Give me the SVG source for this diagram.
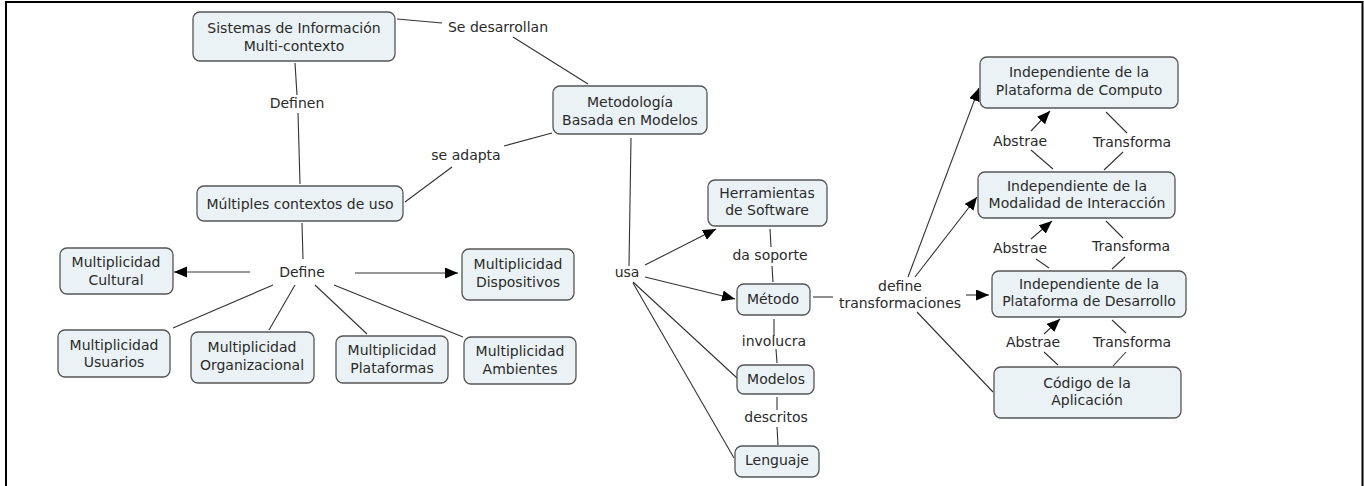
<svg xmlns="http://www.w3.org/2000/svg" width="1364" height="486" viewBox="0 0 1364 486">
<style>
.n rect{fill:#ebf2f5;stroke:#555;stroke-width:1.3}
text{font-family:"DejaVu Sans",Verdana,sans-serif;font-size:14px;fill:#2a2a2a;text-anchor:middle}
.c line{stroke:#333;stroke-width:1.1}
.a{marker-end:url(#ah)}
</style>
<defs>
<marker id="ah" markerUnits="userSpaceOnUse" markerWidth="14" markerHeight="12" refX="13" refY="5.5" orient="auto">
<path d="M0,0 L13,5.5 L0,11 z" fill="#000"/>
</marker>
</defs>
<rect x="0" y="0" width="1364" height="486" fill="#fff"/>
<path d="M6,486 V2 H1362.5 V486" fill="none" stroke="#000" stroke-width="2"/>

<g class="c" id="connectors">
<line x1="397" y1="19" x2="442" y2="23"/>
<line x1="513" y1="37" x2="588" y2="84"/>
<line x1="295" y1="63" x2="297" y2="95"/>
<line x1="298" y1="113" x2="300" y2="184"/>
<line x1="552" y1="133" x2="504" y2="146"/>
<line x1="452" y1="167" x2="405" y2="202"/>
<line x1="302" y1="223" x2="303" y2="259"/>
<line class="a" x1="250" y1="272" x2="174" y2="272"/>
<line class="a" x1="355" y1="273" x2="458" y2="273"/>
<line x1="273" y1="285" x2="173" y2="328"/>
<line x1="295" y1="285" x2="269" y2="330"/>
<line x1="315" y1="285" x2="367" y2="334"/>
<line x1="334" y1="285" x2="463" y2="337"/>
<line x1="631" y1="138" x2="629" y2="266"/>
<line class="a" x1="645" y1="265" x2="716" y2="229"/>
<line class="a" x1="645" y1="277" x2="735" y2="299"/>
<line x1="633" y1="282" x2="737" y2="378"/>
<line x1="633" y1="283" x2="734" y2="458"/>
<line x1="770" y1="229" x2="771" y2="247"/>
<line x1="772" y1="266" x2="773" y2="282"/>
<line x1="774" y1="319" x2="774" y2="336"/>
<line x1="776" y1="349" x2="777" y2="363"/>
<line x1="777" y1="397" x2="777" y2="410"/>
<line x1="777" y1="427" x2="778" y2="445"/>
<line x1="813" y1="297" x2="833" y2="297"/>
<line class="a" x1="908" y1="277" x2="979" y2="88"/>
<line class="a" x1="915" y1="277" x2="977" y2="197"/>
<line class="a" x1="966" y1="295" x2="989" y2="295"/>
<line x1="917" y1="312" x2="993" y2="392"/>
<line x1="1053" y1="169" x2="1031" y2="150"/>
<line class="a" x1="1031" y1="131" x2="1050" y2="111"/>
<line x1="1106" y1="112" x2="1127" y2="133"/>
<line x1="1123" y1="152" x2="1104" y2="170"/>
<line x1="1049" y1="268" x2="1036" y2="259"/>
<line class="a" x1="1031" y1="239" x2="1052" y2="221"/>
<line x1="1106" y1="221" x2="1123" y2="238"/>
<line x1="1125" y1="257" x2="1112" y2="269"/>
<line x1="1058" y1="365" x2="1044" y2="352"/>
<line class="a" x1="1044" y1="334" x2="1060" y2="319"/>
<line x1="1112" y1="320" x2="1126" y2="333"/>
<line x1="1126" y1="352" x2="1113" y2="366"/>
</g>

<g id="labels">
<text x="498" y="32">Se desarrollan</text>
<text x="297" y="108">Definen</text>
<text x="466" y="160">se adapta</text>
<text x="302" y="277">Define</text>
<text x="627" y="277">usa</text>
<text x="770" y="260">da soporte</text>
<text x="774" y="346">involucra</text>
<text x="776" y="422">descritos</text>
<text x="900" y="291">define</text>
<text x="900" y="308">transformaciones</text>
<text x="1020" y="146">Abstrae</text>
<text x="1132" y="147">Transforma</text>
<text x="1020" y="253">Abstrae</text>
<text x="1131" y="251">Transforma</text>
<text x="1033" y="347">Abstrae</text>
<text x="1132" y="347">Transforma</text>
</g>

<g class="n" id="n-sistemas"><rect x="193" y="12" width="202" height="49" rx="7"/><text x="294" y="33">Sistemas de Información</text><text x="294" y="51">Multi-contexto</text></g>
<g class="n" id="n-metodologia"><rect x="553" y="86" width="154" height="48" rx="7"/><text x="630" y="107">Metodología</text><text x="630" y="125">Basada en Modelos</text></g>
<g class="n" id="n-multiples"><rect x="197" y="186" width="206" height="35" rx="7"/><text x="300" y="209">Múltiples contextos de uso</text></g>
<g class="n" id="n-cultural"><rect x="60" y="248" width="113" height="46" rx="7"/><text x="116" y="267">Multiplicidad</text><text x="116" y="285">Cultural</text></g>
<g class="n" id="n-usuarios"><rect x="58" y="330" width="112" height="47" rx="7"/><text x="114" y="350">Multiplicidad</text><text x="114" y="367">Usuarios</text></g>
<g class="n" id="n-organizacional"><rect x="191" y="332" width="123" height="51" rx="7"/><text x="252" y="352">Multiplicidad</text><text x="252" y="370">Organizacional</text></g>
<g class="n" id="n-plataformas"><rect x="336" y="336" width="112" height="47" rx="7"/><text x="392" y="355">Multiplicidad</text><text x="392" y="373">Plataformas</text></g>
<g class="n" id="n-dispositivos"><rect x="462" y="249" width="112" height="51" rx="7"/><text x="518" y="269">Multiplicidad</text><text x="518" y="287">Dispositivos</text></g>
<g class="n" id="n-ambientes"><rect x="464" y="337" width="112" height="47" rx="7"/><text x="520" y="356">Multiplicidad</text><text x="520" y="374">Ambientes</text></g>
<g class="n" id="n-herramientas"><rect x="708" y="180" width="119" height="46" rx="7"/><text x="767" y="198">Herramientas</text><text x="767" y="215">de Software</text></g>
<g class="n" id="n-metodo"><rect x="737" y="284" width="73" height="31" rx="7"/><text x="773" y="304">Método</text></g>
<g class="n" id="n-modelos"><rect x="737" y="365" width="77" height="29" rx="7"/><text x="776" y="384">Modelos</text></g>
<g class="n" id="n-lenguaje"><rect x="735" y="446" width="84" height="31" rx="7"/><text x="777" y="465">Lenguaje</text></g>
<g class="n" id="n-computo"><rect x="980" y="57" width="198" height="51" rx="7"/><text x="1079" y="77">Independiente de la</text><text x="1079" y="95">Plataforma de Computo</text></g>
<g class="n" id="n-modalidad"><rect x="978" y="172" width="197" height="46" rx="7"/><text x="1077" y="191">Independiente de la</text><text x="1077" y="208">Modalidad de Interacción</text></g>
<g class="n" id="n-desarrollo"><rect x="992" y="271" width="194" height="46" rx="7"/><text x="1089" y="289">Independiente de la</text><text x="1089" y="306">Plataforma de Desarrollo</text></g>
<g class="n" id="n-codigo"><rect x="994" y="367" width="187" height="51" rx="7"/><text x="1087" y="388">Código de la</text><text x="1087" y="405">Aplicación</text></g>
</svg>
